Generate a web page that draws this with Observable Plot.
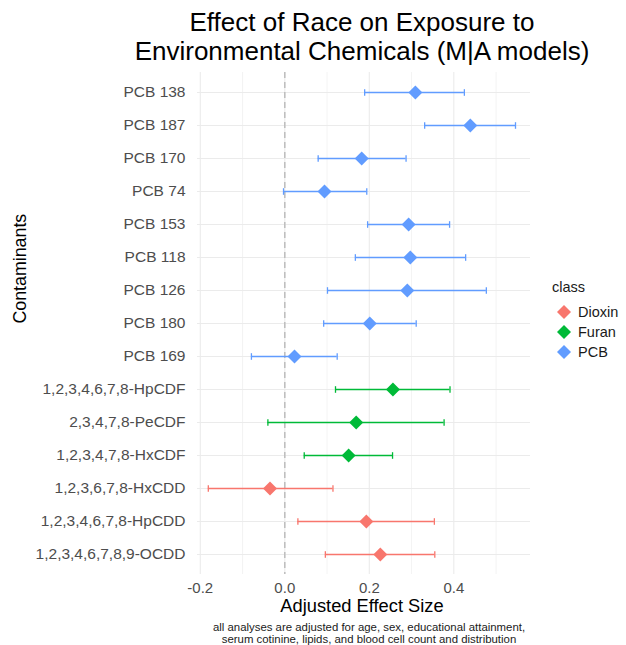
<!DOCTYPE html>
<html>
<head>
<meta charset="utf-8">
<script src="https://cdn.jsdelivr.net/npm/d3@7"></script>
<script src="https://cdn.jsdelivr.net/npm/@observablehq/plot@0.6"></script>
<style>
  body { margin: 0; background: #fff; font-family: "Liberation Sans", Arial, sans-serif; }
  #wrap { position: relative; width: 626px; height: 645px; overflow: hidden; background: #fff; }
  #title { box-sizing: border-box; width: 626px; height: 70px; padding-top: 8px; padding-left: 98px;
           text-align: center; font-size: 26px; line-height: 29px; color: #000; }
  #chart svg { display: block; }
  #caption { box-sizing: border-box; width: 626px; height: 27px; padding-top: 3px; padding-left: 112px;
             text-align: center; font-size: 11.4px; line-height: 12px; color: #1a1a1a; }
  #legend { position: absolute; left: 0; top: 0; width: 626px; height: 645px; pointer-events: none; }
  .lg-title { position: absolute; left: 552px; top: 278px; font-size: 14.5px; line-height: 18px; color: #1a1a1a; }
  .lg-item { position: absolute; left: 556px; height: 18px; display: flex; align-items: center; font-size: 14.5px; color: #1a1a1a; }
  .lg-item svg { margin-right: 6px; }
  g[aria-label="y-axis tick label"], g[aria-label="x-axis tick label"] { color: #4d4d4d; fill: #4d4d4d; }
</style>
</head>
<body>
<div id="wrap">
  <div id="title">Effect of Race on Exposure to<br>Environmental Chemicals (M|A models)</div>
  <div id="chart"></div>
  <div id="caption">all analyses are adjusted for age, sex, educational attainment,<br>serum cotinine, lipids, and blood cell count and distribution</div>
  <div id="legend"></div>
</div>
<script>
// ---- data (top to bottom as displayed) ----
const contaminants = [
  "PCB 138", "PCB 187", "PCB 170", "PCB 74", "PCB 153", "PCB 118", "PCB 126", "PCB 180", "PCB 169",
  "1,2,3,4,6,7,8-HpCDF", "2,3,4,7,8-PeCDF", "1,2,3,4,7,8-HxCDF",
  "1,2,3,6,7,8-HxCDD", "1,2,3,4,6,7,8-HpCDD", "1,2,3,4,6,7,8,9-OCDD"
];
const contaminantClass = [
  "PCB", "PCB", "PCB", "PCB", "PCB", "PCB", "PCB", "PCB", "PCB",
  "Furan", "Furan", "Furan",
  "Dioxin", "Dioxin", "Dioxin"
];
const estimate = [0.309, 0.439, 0.182, 0.094, 0.293, 0.297, 0.290, 0.201, 0.023, 0.256, 0.169, 0.151, -0.035, 0.193, 0.226];
const lower    = [0.189, 0.331, 0.079, -0.003, 0.196, 0.167, 0.101, 0.092, -0.079, 0.120, -0.040, 0.046, -0.181, 0.031, 0.096];
const upper    = [0.425, 0.546, 0.287, 0.194, 0.390, 0.428, 0.477, 0.311, 0.124, 0.391, 0.377, 0.255, 0.114, 0.354, 0.355];

const classNames  = ["Dioxin", "Furan", "PCB"];
const classColors = ["#F8766D", "#00BA38", "#619CFF"];
const xTicks = [-0.2, 0, 0.2, 0.4];
const xMinor = [-0.1, 0.1, 0.3, 0.5];

const rows = contaminants.map((c, i) => ({
  contaminant: c, cls: contaminantClass[i], est: estimate[i], lo: lower[i], hi: upper[i]
}));

// vertical cap symbol (half-length = r)
const capSymbol = { draw(ctx, size) { const h = Math.sqrt(size / Math.PI); ctx.moveTo(0, -h); ctx.lineTo(0, h); } };
// square diamond (half-diagonal = r)
const diamondSymbol = { draw(ctx, size) { const r = Math.sqrt(size / Math.PI);
  ctx.moveTo(0, -r); ctx.lineTo(r, 0); ctx.lineTo(0, r); ctx.lineTo(-r, 0); ctx.closePath(); } };

const font = "'Liberation Sans', Arial, sans-serif";

const chart = Plot.plot({
  width: 626,
  height: 548,
  marginTop: 2,
  marginBottom: 44,
  marginLeft: 197,
  marginRight: 96,
  style: { fontFamily: font, fontSize: "15.5px", background: "#fff", color: "#4d4d4d" },
  x: { domain: [-0.2066, 0.5815] },
  y: { type: "point", domain: contaminants, padding: 0.6 },
  color: { domain: classNames, range: classColors },
  marks: [
    Plot.ruleX(xMinor, { stroke: "#ebebeb", strokeWidth: 0.6 }),
    Plot.ruleX(xTicks, { stroke: "#ebebeb", strokeWidth: 1.1 }),
    Plot.ruleY(contaminants, { stroke: "#ebebeb", strokeWidth: 1.1 }),
    Plot.ruleX([0], { stroke: "#bdbdbd", strokeWidth: 1.5, strokeDasharray: "6,4" }),
    Plot.ruleY(rows, { y: "contaminant", x1: "lo", x2: "hi", stroke: "cls", strokeWidth: 1.3 }),
    Plot.dot(rows, { x: "lo", y: "contaminant", symbol: capSymbol, r: 3.3, fill: "none", stroke: "cls", strokeWidth: 1.3 }),
    Plot.dot(rows, { x: "hi", y: "contaminant", symbol: capSymbol, r: 3.3, fill: "none", stroke: "cls", strokeWidth: 1.3 }),
    Plot.dot(rows, { x: "est", y: "contaminant", symbol: diamondSymbol, r: 7, fill: "cls", stroke: "none" }),
    Plot.axisX({ ticks: xTicks, tickSize: 0, tickPadding: 8, tickFormat: d => d.toFixed(1), label: null, fontSize: 15 }),
    Plot.axisY({ tickSize: 0, tickPadding: 12, label: null, fontSize: 15.5 }),
    Plot.text(["Adjusted Effect Size"], { frameAnchor: "bottom", dy: 32, dx: -2, fontSize: 18.3, fill: "#000", lineAnchor: "middle" }),
    Plot.text(["Contaminants"], { frameAnchor: "left", dx: -177, rotate: -90, fontSize: 17.8, fill: "#000", lineAnchor: "middle" })
  ]
});
document.getElementById("chart").appendChild(chart);

// legend
const legend = document.getElementById("legend");
const lt = document.createElement("div");
lt.className = "lg-title"; lt.textContent = "class";
legend.appendChild(lt);
classNames.forEach((name, i) => {
  const item = document.createElement("div");
  item.className = "lg-item";
  item.style.top = (303 + i * 20) + "px";
  item.innerHTML = `<svg width="16" height="16" viewBox="-8 -8 16 16"><path d="M0,-7L7,0L0,7L-7,0Z" fill="${classColors[i]}"/></svg><span>${name}</span>`;
  legend.appendChild(item);
});
</script>
</body>
</html>
